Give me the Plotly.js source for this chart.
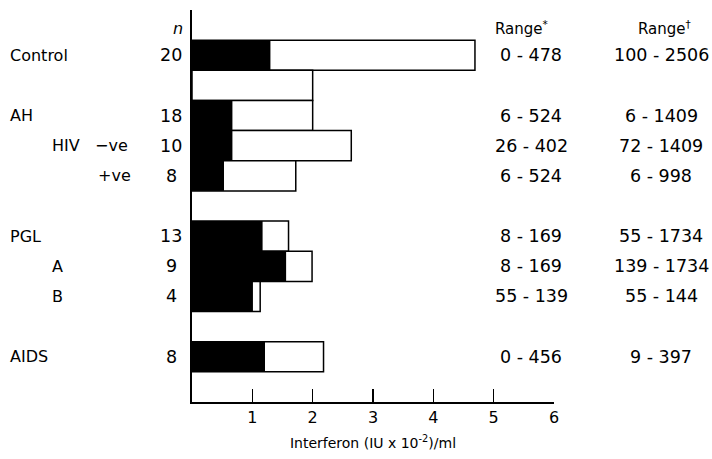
<!DOCTYPE html>
<html><head><meta charset="utf-8">
<script src="https://cdn.plot.ly/plotly-3.0.1.min.js"></script>
<style>html,body{margin:0;padding:0;background:#fff}#chart{width:712px;height:459px}</style>
</head><body><div id="chart"></div>
<script>
// ---- data ----
const categories = ["Control", "", "AH", "HIV −ve", "+ve", "PGL", "A", "B", "AIDS"];
const nValues = ["20", "", "18", "10", "8", "13", "9", "4", "8"];
const blackMean = [1.30, 0, 0.67, 0.67, 0.53, 1.17, 1.56, 1.01, 1.21];
const whiteMean = [4.69, 2.00, 2.00, 2.64, 1.72, 1.60, 1.99, 1.13, 2.18];
const rangeStar = ["0 - 478", "", "6 - 524", "26 - 402", "6 - 524", "8 - 169", "8 - 169", "55 - 139", "0 - 456"];
const rangeDagger = ["100 - 2506", "", "6 - 1409", "72 - 1409", "6 - 998", "55 - 1734", "139 - 1734", "55 - 144", "9 - 397"];
const xTicks = [1, 2, 3, 4, 5, 6];

// ---- layout helpers ----
const rowSlot = [1, 2, 3, 4, 5, 7, 8, 9, 11];
const W = 712, H = 459, L = 192, R = 158, T = 10, B = 57;
const plotW = W - L - R;
const px = v => (v - L) / plotW;
const FONT = "DejaVu Sans, sans-serif";
const ann = [];
function txt(x, y, text, xanchor, size) {
  ann.push({xref: 'paper', yref: 'y', x: px(x), y: y, text: text, showarrow: false,
    xanchor: xanchor || 'left', yanchor: 'middle', font: {family: FONT, size: size || 16, color: '#000'}});
}
categories.forEach((c, i) => {
  const y = rowSlot[i];
  if (c === "HIV −ve") { txt(50, y, "HIV"); txt(93, y, "−ve"); }
  else if (c === "+ve") { txt(96, y, "+ve"); }
  else if (c === "A" || c === "B") { txt(50, y, c); }
  else if (c) { txt(8, y, c); }
  if (nValues[i]) txt(171, y, nValues[i], 'center', 17.5);
  if (rangeStar[i]) txt(531, y, rangeStar[i], 'center', 17.5);
  if (rangeDagger[i]) txt(661, y, rangeDagger[i], 'center', 17.5);
});
txt(178, 0.12, "<i>n</i>", 'center', 16);
txt(521, 0.1, "Range<sup>*</sup>", 'center', 15);
txt(664, 0.1, "Range<sup>†</sup>", 'center', 15);

const traces = [
  {type: 'bar', orientation: 'h', y: rowSlot, x: whiteMean, width: 1,
   marker: {color: '#fff', line: {color: '#000', width: 1.5}}, hoverinfo: 'skip'},
  {type: 'bar', orientation: 'h', y: rowSlot, x: blackMean, width: 1,
   marker: {color: '#000', line: {color: '#000', width: 0}}, hoverinfo: 'skip'}
];
const layout = {
  width: W, height: H, margin: {l: L, r: R, t: T, b: B},
  paper_bgcolor: '#fff', plot_bgcolor: '#fff', showlegend: false, barmode: 'overlay',
  hovermode: false,
  xaxis: {range: [0, 6], tickvals: xTicks, ticktext: xTicks.map(String), ticks: 'inside', ticklen: 13,
    tickwidth: 1.5, tickcolor: '#000', showline: true, linewidth: 2, linecolor: '#000',
    showgrid: false, zeroline: false, tickfont: {family: FONT, size: 16, color: '#000'},
    title: {text: "Interferon (IU x 10<sup>-2</sup>)/ml", font: {family: FONT, size: 14, color: '#000'}, standoff: 12}},
  yaxis: {range: [12.5, -0.5], showticklabels: false, ticks: '', showline: true, linewidth: 2,
    linecolor: '#000', showgrid: false, zeroline: false},
  annotations: ann
};
Plotly.newPlot('chart', traces, layout, {displayModeBar: false, staticPlot: true});
</script></body></html>
